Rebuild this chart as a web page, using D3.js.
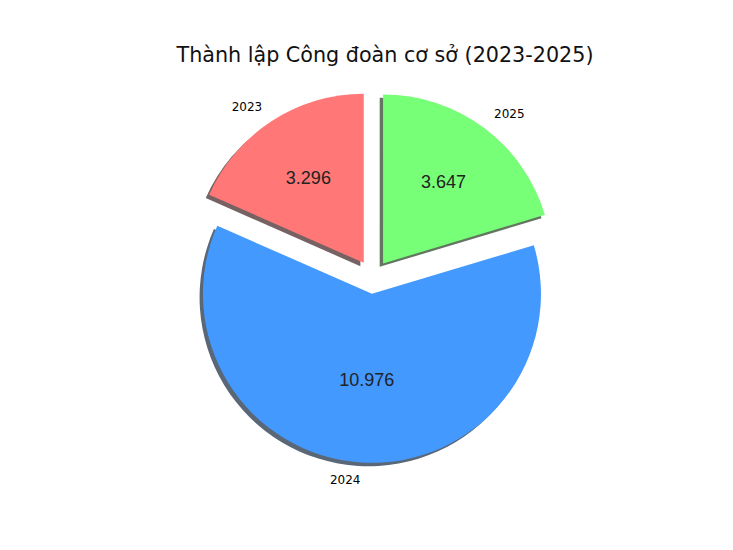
<!DOCTYPE html>
<html>
<head>
<meta charset="utf-8">
<script src="https://cdn.jsdelivr.net/npm/d3@7"></script>
<style>
  body { margin: 0; background: #fff; }
</style>
</head>
<body>
<div id="chart"></div>
<script>
// Data
const years = ["2023", "2024", "2025"];
const counts = [3296, 10976, 3647];
const sliceColors = ["#ff7777", "#4499ff", "#77ff77"];

const width = 733, height = 550;
const cx = 373, cy = 277;
const radius = 169;
const explode = 0.1 * radius;
const shadowOffset = 0.02 * radius; // left and down like matplotlib's shadow

// Vietnamese number format: dot as thousands separator
const vi = d3.formatLocale({ decimal: ",", thousands: ".", grouping: [3], currency: ["", " ₫"] });
const fmt = vi.format(",d");

const svg = d3.select("#chart")
  .append("svg")
    .attr("width", width)
    .attr("height", height);

svg.append("text")
  .attr("x", 385)
  .attr("y", 62)
  .attr("text-anchor", "middle")
  .style("font-family", "DejaVu Sans")
  .style("font-size", "20.7px")
  .attr("fill", "#111")
  .text("Thành lập Công đoàn cơ sở (2023-2025)");

// counterclockwise from 12 o'clock
const pie = d3.pie().sort(null).startAngle(0).endAngle(-2 * Math.PI);
const arcs = pie(counts);

const arc = d3.arc().innerRadius(0).outerRadius(radius);

function mid(d) { return (d.startAngle + d.endAngle) / 2; }
function centerOf(d) {
  const m = mid(d);
  return [cx + explode * Math.sin(m), cy - explode * Math.cos(m)];
}

function shadowColor(c) {
  const k = d3.rgb(c);
  return d3.rgb((k.r * 0.3 + 160) / 2, (k.g * 0.3 + 160) / 2, (k.b * 0.3 + 160) / 2);
}

// shadows first
svg.append("g").selectAll("path.shadow")
  .data(arcs)
  .enter()
  .append("path")
    .attr("class", "shadow")
    .attr("d", arc)
    .attr("transform", d => {
      const c = centerOf(d);
      return "translate(" + (c[0] - shadowOffset) + "," + (c[1] + shadowOffset) + ")";
    })
    .attr("fill", (d, i) => shadowColor(sliceColors[i]));

svg.append("g").selectAll("path.wedge")
  .data(arcs)
  .enter()
  .append("path")
    .attr("class", "wedge")
    .attr("d", arc)
    .attr("transform", d => "translate(" + centerOf(d) + ")")
    .attr("fill", (d, i) => sliceColors[i]);

// year labels at 1.1 r
svg.append("g").selectAll("text")
  .data(arcs)
  .enter()
  .append("text")
    .attr("x", d => centerOf(d)[0] + 1.1 * radius * Math.sin(mid(d)))
    .attr("y", d => centerOf(d)[1] - 1.1 * radius * Math.cos(mid(d)))
    .attr("dy", "0.35em")
    .attr("text-anchor", d => Math.sin(mid(d)) < 0 ? "end" : "start")
    .style("font-family", "DejaVu Sans")
    .style("font-size", "12px")
    .attr("fill", "#000")
    .text((d, i) => years[i]);

// value labels: 0.6 r, the big slice's label sits a bit closer in
svg.append("g").selectAll("text")
  .data(arcs)
  .enter()
  .append("text")
    .attr("x", d => centerOf(d)[0] + (d.index === 1 ? 0.51 : 0.6) * radius * Math.sin(mid(d)))
    .attr("y", d => centerOf(d)[1] - (d.index === 1 ? 0.51 : 0.6) * radius * Math.cos(mid(d)))
    .attr("dy", "0.35em")
    .attr("text-anchor", "middle")
    .style("font-family", "Liberation Sans")
    .style("font-size", "18px")
    .attr("fill", "#222")
    .text(d => fmt(d.data));
</script>
</body>
</html>
